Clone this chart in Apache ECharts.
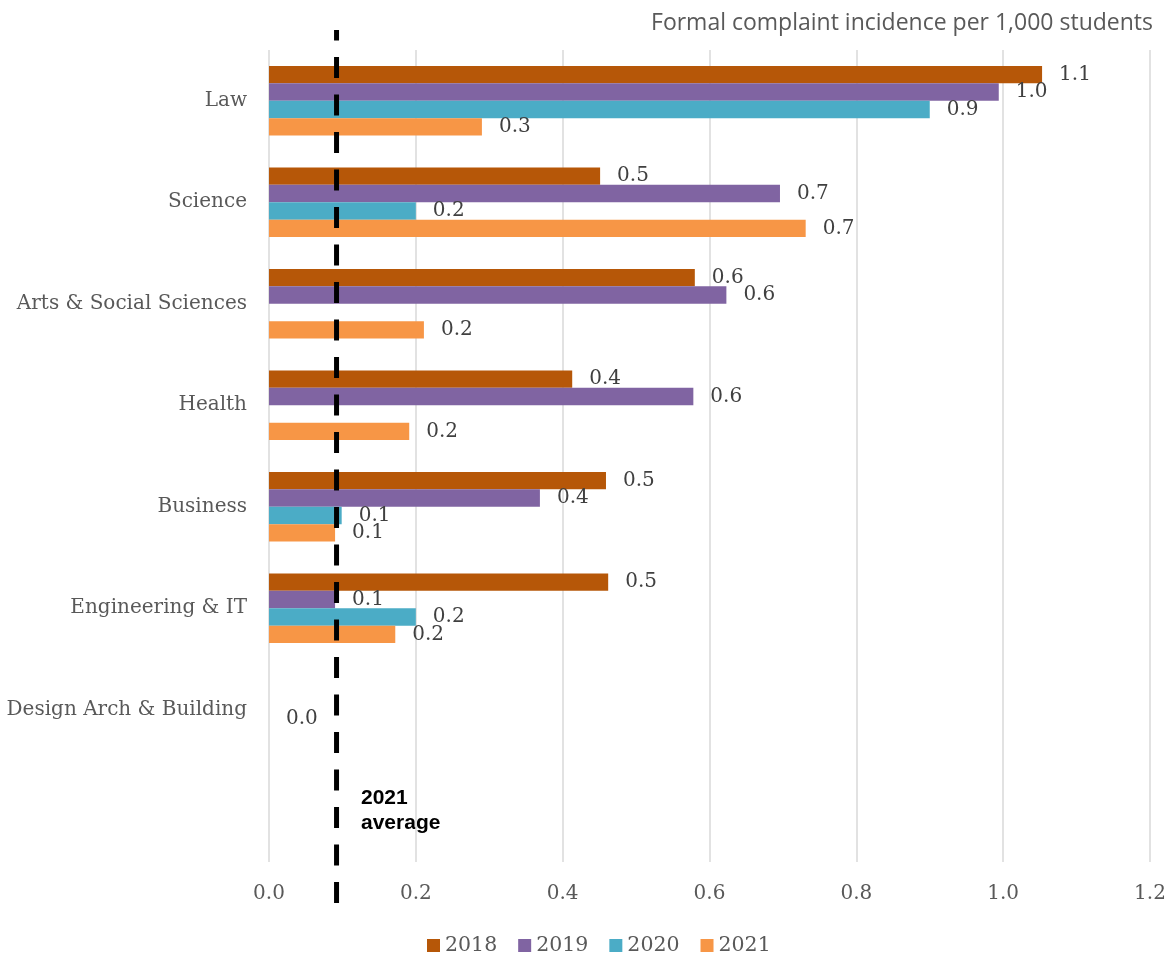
<!DOCTYPE html>
<html>
<head>
<meta charset="utf-8">
<style>
  html, body { margin: 0; padding: 0; background: #fff; }
  #chart { width: 1171px; height: 963px; }
</style>
<script src="https://cdn.jsdelivr.net/npm/echarts@6/dist/echarts.min.js"></script>
</head>
<body>
<div id="chart"></div>
<script>
// Faculties, top to bottom (last row left empty for the average note)
const faculties = ['Law', 'Science', 'Arts & Social Sciences', 'Health', 'Business', 'Engineering & IT', 'Design Arch & Building', ''];
const years = ['2018', '2019', '2020', '2021'];

// Formal complaints per 1,000 students
const v2018 = [1.053, 0.451, 0.580, 0.413, 0.459, 0.462, null, null];
const v2019 = [0.994, 0.696, 0.623, 0.578, 0.369, 0.090, null, null];
const v2020 = [0.900, 0.200, null, null, 0.099, 0.200, 0, null];
const v2021 = [0.290, 0.731, 0.211, 0.191, 0.090, 0.172, null, null];

const avg2021 = 0.092;
const xTicks = [0, 0.2, 0.4, 0.6, 0.8, 1.0, 1.2];

const colors = ['#B65708', '#8064A2', '#4BACC6', '#F79646'];
const serif = 'DejaVu Serif';

const chart = echarts.init(document.getElementById('chart'), null, { renderer: 'canvas' });

function barSeries(name, data, color) {
  return {
    name: name,
    type: 'bar',
    xAxisIndex: 0,
    yAxisIndex: 0,
    data: data,
    barGap: '0%',
    barCategoryGap: '31.5%',
    itemStyle: { color: color },
    label: {
      show: true,
      position: 'right',
      distance: 17,
      color: '#404040',
      fontFamily: serif,
      fontSize: 20,
      formatter: p => (p.value == null ? '' : Number(p.value).toFixed(1))
    },
    emphasis: { disabled: true },
    animation: false
  };
}

chart.setOption({
  animation: false,
  color: colors,
  title: {
    text: 'Formal complaint incidence per 1,000 students',
    right: 13,
    top: 7,
    textStyle: { fontFamily: 'Open Sans', fontWeight: 'normal', fontSize: 23, color: '#595959' }
  },
  legend: {
    data: years,
    top: 930,
    left: 422,
    icon: 'rect',
    itemWidth: 13,
    itemHeight: 13,
    itemGap: 21,
    textStyle: { fontFamily: serif, fontSize: 20.5, color: '#595959' }
  },
  grid: [
    { left: 269, right: 21, top: 50, bottom: 101, containLabel: false },
    { left: 269, right: 21, top: 30, bottom: 60, containLabel: false }
  ],
  xAxis: [
    {
      type: 'value',
      gridIndex: 0,
      min: xTicks[0],
      max: xTicks[xTicks.length - 1],
      interval: 0.2,
      axisLine: { show: false },
      axisTick: { show: false },
      splitLine: { show: true, lineStyle: { color: '#D9D9D9', width: 1.5 } },
      axisLabel: {
        margin: 22,
        color: '#595959',
        fontFamily: serif,
        fontSize: 20,
        formatter: v => v.toFixed(1)
      }
    },
    { type: 'value', gridIndex: 1, min: 0, max: 1.2, show: false }
  ],
  yAxis: [
    {
      type: 'category',
      gridIndex: 0,
      data: faculties,
      inverse: true,
      axisLine: { show: false },
      axisTick: { show: false },
      axisLabel: { margin: 22, color: '#595959', fontFamily: serif, fontSize: 20 }
    },
    { type: 'value', gridIndex: 1, min: 0, max: 1, show: false }
  ],
  series: [
    barSeries('2018', v2018, colors[0]),
    barSeries('2019', v2019, colors[1]),
    barSeries('2020', v2020, colors[2]),
    barSeries('2021', v2021, colors[3]),
    {
      name: '2021 average',
      type: 'line',
      xAxisIndex: 1,
      yAxisIndex: 1,
      data: [[avg2021, 0], [avg2021, 1]],
      symbol: 'none',
      lineStyle: { color: '#000', width: 5, type: [21, 16.5] },
      silent: true,
      z: 10,
      animation: false
    }
  ],
  graphic: [
    {
      type: 'text',
      left: 361,
      top: 786,
      style: {
        text: '2021\naverage',
        fontFamily: 'Liberation Sans',
        fontWeight: 'bold',
        fontSize: 21,
        lineHeight: 25,
        fill: '#000'
      }
    }
  ]
});
</script>
</body>
</html>
